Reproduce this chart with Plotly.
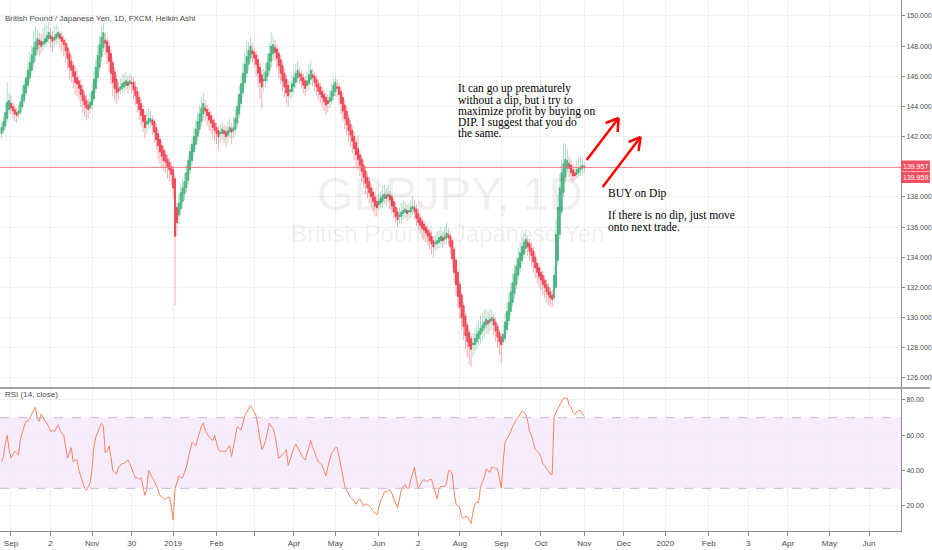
import pandas as pd
import plotly.graph_objects as go

# ---------------- data (Heikin Ashi daily) ----------------
start_date = "2018-08-27"

opens = [
    142.2,142.4,142.7,143.2,143.8,144.2,144.0,143.8,143.6,143.5,
    143.6,144.0,144.4,144.9,145.4,145.9,146.4,146.9,147.4,147.8,
    148.4,148.3,148.1,148.2,148.3,148.5,148.7,148.6,148.4,148.5,
    148.6,148.8,148.6,148.4,148.2,147.9,147.5,147.0,146.7,146.3,
    145.9,145.7,145.4,145.1,144.7,144.4,144.1,143.9,144.1,144.5,
    145.2,145.9,146.6,147.3,147.9,148.4,148.3,148.0,147.5,146.9,
    146.3,145.8,145.2,145.1,145.2,145.3,145.4,145.6,145.5,145.6,
    145.6,145.3,145.0,144.6,144.2,143.8,143.4,142.8,142.9,143.0,
    143.1,143.0,142.6,142.2,141.8,141.4,141.1,140.8,140.5,140.3,
    140.0,139.8,139.2,137.3,136.8,137.2,137.7,138.2,138.6,139.1,
    139.8,140.4,141.0,141.5,142.0,142.5,143.0,143.5,143.9,143.8,
    143.6,143.4,143.1,142.9,142.6,142.4,142.2,142.2,142.4,142.3,
    142.1,142.3,142.5,142.4,142.5,142.9,143.5,144.2,144.9,145.6,
    146.2,146.8,147.2,147.7,147.6,147.4,147.1,146.6,146.1,145.7,
    145.7,146.0,146.4,147.0,147.5,147.9,147.8,147.5,147.1,146.7,
    146.2,145.8,145.4,145.0,145.0,145.3,145.6,145.9,146.2,146.1,
    145.9,145.7,145.4,145.5,145.8,146.1,146.0,145.8,145.5,145.3,
    145.0,144.8,144.6,144.4,144.3,144.4,144.7,145.0,145.3,145.3,
    145.0,144.6,144.1,143.7,143.2,142.8,142.4,142.0,141.6,141.2,
    140.8,140.5,140.1,139.7,139.3,139.0,138.6,138.3,138.0,137.7,
    137.5,137.6,137.7,137.9,138.1,138.0,138.1,138.0,137.7,137.3,
    137.0,136.7,136.7,136.9,137.0,137.1,137.0,137.0,137.2,137.3,
    137.2,136.9,136.6,136.4,136.2,136.0,135.8,135.6,135.4,135.1,
    134.9,134.9,135.0,135.1,135.3,135.2,135.3,135.5,135.4,135.1,
    134.5,133.8,133.0,132.2,131.5,130.8,130.1,129.5,129.0,128.6,
    128.2,128.2,128.4,128.6,128.9,129.1,129.3,129.5,129.8,129.7,
    129.8,129.9,129.7,129.4,129.0,128.7,128.4,128.6,129.2,129.8,
    130.4,131.0,131.6,132.2,132.8,133.3,133.8,134.2,134.6,135.0,
    134.9,134.6,134.4,134.0,133.6,133.3,133.0,132.8,132.5,132.2,
    132.0,131.7,131.5,131.3,132.0,133.8,135.5,137.0,138.3,139.3,
    139.9,140.2,140.1,139.8,139.6,139.5,139.6,139.8,139.9,140.02,
]
highs = [
    142.9,143.4,144.2,145.6,144.9,144.7,144.3,144.1,143.9,144.1,
    144.6,145.4,145.8,146.3,147.0,147.6,148.0,149.0,149.3,149.1,
    148.9,148.8,149.2,149.5,149.4,149.6,149.2,149.0,149.3,149.5,
    149.3,149.0,148.9,148.7,148.5,148.2,147.8,147.4,147.0,146.7,
    146.5,146.0,145.8,145.4,145.0,144.8,144.5,144.9,145.5,146.3,
    147.1,148.0,148.7,149.3,149.5,148.9,148.6,148.4,147.8,147.2,
    146.6,146.1,145.6,145.9,146.1,146.2,146.3,146.0,146.2,146.0,
    145.9,145.7,145.3,144.9,144.5,144.1,143.7,143.6,143.9,143.7,
    143.4,143.2,142.9,142.5,142.1,141.7,141.4,141.1,140.8,140.6,
    140.3,140.0,139.4,137.6,138.2,138.9,139.2,139.6,140.1,140.8,
    141.5,142.0,142.6,143.1,143.6,144.1,144.6,144.9,144.4,144.1,
    143.9,143.7,143.4,143.2,142.9,142.7,142.8,143.0,142.8,142.7,
    143.0,143.2,142.9,143.3,143.8,144.6,145.4,146.1,146.9,147.6,
    148.4,148.3,148.6,148.2,147.9,147.7,147.4,146.9,146.4,146.5,
    146.9,147.5,148.2,148.9,148.7,148.4,148.1,147.8,147.4,147.0,
    146.5,146.1,145.7,145.7,146.1,146.4,146.8,147.0,146.6,146.4,
    146.2,146.0,146.3,146.8,147.1,146.5,146.3,146.1,145.8,145.6,
    145.3,145.1,144.9,144.8,145.1,145.5,145.9,146.0,145.8,145.6,
    145.3,144.9,144.4,144.0,143.5,143.1,142.7,142.3,141.9,142.1,
    141.1,140.8,140.4,140.0,139.6,139.3,138.9,138.6,138.3,138.0,
    138.2,138.4,138.7,138.8,138.6,138.8,138.4,138.2,137.9,137.6,
    137.3,137.3,137.6,137.8,137.7,137.5,137.6,137.8,138.1,137.7,
    137.5,137.2,136.9,136.7,136.5,136.3,136.1,135.9,135.7,135.4,
    135.5,135.7,135.8,136.0,135.7,136.0,136.3,135.9,135.6,135.3,
    134.7,134.0,133.2,132.4,131.7,131.0,130.3,129.7,129.2,128.8,
    129.0,129.3,129.6,129.8,130.2,130.3,130.5,130.6,130.4,130.6,
    130.5,130.2,130.0,129.6,129.2,128.9,129.5,130.3,131.0,131.6,
    132.3,132.9,133.5,134.0,134.6,135.0,135.3,135.6,135.8,135.4,
    135.2,135.0,134.7,134.3,133.9,133.6,133.3,133.1,132.8,132.5,
    132.3,132.0,131.8,133.5,136.5,138.2,139.5,140.5,141.6,141.5,
    141.2,140.7,140.5,140.2,140.0,140.4,140.6,140.7,140.6,140.3,
]
lows = [
    141.9,142.2,142.5,143.0,143.5,143.5,143.2,143.0,142.9,143.2,
    143.4,143.8,144.2,144.7,145.2,145.6,146.1,146.6,147.0,147.4,
    147.4,147.5,147.7,147.9,148.0,148.2,147.9,147.6,148.0,148.1,
    148.2,147.8,147.6,147.3,146.9,146.5,145.8,145.6,145.2,144.8,
    144.7,144.4,144.0,143.6,143.3,143.1,143.2,143.5,143.8,144.3,
    144.9,145.6,146.3,147.0,147.6,147.4,146.8,146.3,145.5,144.7,
    144.4,144.2,144.5,144.8,144.9,145.0,145.1,144.9,145.1,144.9,
    144.5,144.1,143.6,143.1,142.7,142.3,141.9,142.2,142.5,142.6,
    142.1,141.6,141.1,140.5,140.2,139.9,139.7,139.6,139.2,139.0,
    138.8,137.9,130.8,135.4,136.2,136.8,137.3,137.8,138.3,138.8,
    139.5,140.1,140.7,141.2,141.7,142.2,142.7,143.1,143.0,142.7,
    142.4,142.2,141.9,141.7,141.5,141.1,141.6,141.8,141.6,141.3,
    141.6,141.9,141.5,141.9,142.1,142.6,143.2,143.9,144.6,145.3,
    145.9,146.4,146.9,146.9,146.6,146.0,145.3,144.5,143.8,145.0,
    145.3,145.6,146.1,146.6,147.1,147.0,146.5,145.9,145.5,145.0,
    144.6,144.2,144.0,144.5,144.6,144.9,145.2,145.5,145.5,145.2,
    144.9,144.7,145.0,145.1,145.4,145.3,145.0,144.7,144.4,144.2,
    144.0,143.7,143.5,143.6,143.9,144.1,144.4,144.7,144.6,144.1,
    143.5,143.0,142.5,142.1,141.6,141.3,140.9,140.4,140.0,139.8,
    139.4,139.0,138.6,138.2,137.9,137.6,137.3,137.0,136.7,136.7,
    137.1,137.2,137.3,137.5,137.4,137.6,137.2,136.9,136.6,136.3,
    136.0,136.2,136.3,136.5,136.6,136.4,136.5,136.6,136.8,136.5,
    136.1,135.8,135.6,135.3,135.2,135.0,134.8,134.5,134.2,134.0,
    134.4,134.5,134.6,134.7,134.6,134.8,134.9,134.8,134.2,133.3,
    132.3,131.5,130.6,129.9,129.2,128.5,127.9,127.4,126.9,126.7,
    127.4,127.6,127.9,128.1,128.3,128.5,128.7,128.9,128.9,129.1,
    129.2,128.8,128.4,128.0,127.5,127.0,128.1,128.4,128.9,129.5,
    130.1,130.7,131.3,131.9,132.5,133.0,133.5,133.9,134.3,134.1,
    133.8,133.4,133.0,132.6,132.3,132.0,131.8,131.5,131.3,131.0,
    130.8,130.7,130.7,131.1,131.8,133.5,135.2,136.8,138.0,139.0,
    139.6,139.3,139.1,139.0,139.1,139.2,139.3,139.4,139.5,139.6,
]
closes = [
    142.6,143.0,143.6,144.3,144.4,143.9,143.7,143.5,143.4,143.7,
    144.3,144.8,145.4,145.9,146.4,146.9,147.4,147.9,148.3,148.5,
    148.1,148.0,148.3,148.5,148.7,148.9,148.5,148.3,148.6,148.8,
    148.9,148.5,148.3,148.1,147.7,147.2,146.6,146.4,146.0,145.6,
    145.5,145.2,144.8,144.4,144.1,143.9,143.8,144.3,145.0,145.8,
    146.6,147.4,148.1,148.6,148.9,148.2,147.6,147.0,146.2,145.6,
    145.2,144.9,145.0,145.3,145.5,145.6,145.7,145.4,145.7,145.5,
    145.1,144.7,144.2,143.8,143.4,143.0,142.6,143.0,143.2,143.2,
    142.8,142.3,141.8,141.4,141.0,140.7,140.4,140.3,140.0,139.8,
    139.5,138.6,135.4,136.3,137.6,138.3,138.6,139.0,139.6,140.4,
    141.0,141.5,142.0,142.5,143.0,143.5,143.9,144.2,143.7,143.4,
    143.1,142.9,142.6,142.4,142.2,142.0,142.3,142.5,142.2,142.0,
    142.4,142.6,142.3,142.6,143.2,144.0,144.8,145.5,146.2,146.8,
    147.3,147.7,148.0,147.5,147.2,146.8,146.2,145.6,145.3,145.8,
    146.3,146.9,147.5,148.0,148.1,147.6,147.2,146.7,146.2,145.7,
    145.3,144.9,144.7,145.1,145.5,145.9,146.2,146.4,146.0,145.7,
    145.4,145.2,145.7,146.1,146.4,145.9,145.6,145.3,145.0,144.8,
    144.6,144.3,144.1,144.2,144.6,145.0,145.4,145.6,145.2,144.8,
    144.2,143.7,143.2,142.8,142.4,142.1,141.7,141.2,140.8,140.5,
    140.1,139.7,139.3,138.9,138.6,138.3,138.0,137.7,137.4,137.3,
    137.7,137.9,138.1,138.2,137.9,138.2,137.8,137.4,137.0,136.7,
    136.5,136.8,137.0,137.1,137.2,136.9,137.1,137.3,137.4,137.0,
    136.6,136.3,136.1,135.9,135.8,135.6,135.4,135.1,134.9,134.7,
    135.0,135.1,135.3,135.4,135.1,135.4,135.6,135.3,134.7,133.9,
    133.0,132.2,131.4,130.7,130.0,129.4,128.8,128.4,128.1,127.9,
    128.3,128.6,128.9,129.1,129.3,129.5,129.7,129.9,129.6,129.9,
    130.0,129.5,129.1,128.7,128.4,128.2,128.9,129.7,130.4,131.0,
    131.7,132.3,132.9,133.4,133.9,134.3,134.7,135.0,135.2,134.7,
    134.4,134.1,133.7,133.3,133.0,132.7,132.5,132.2,132.0,131.7,
    131.5,131.3,131.2,132.8,135.5,137.3,138.6,139.6,140.2,140.5,
    140.4,139.9,139.6,139.4,139.4,139.8,139.9,140.0,140.1,139.957,
]
rsi_values = [
    45,48,55,60,52,47,49,51,50,49,
    58,62,65,68,68,70,72,74,76,69,
    68,72,70,68,67,65,62,63,62,64,
    66,63,61,60,52,47,50,53,45,46,
    46,40,37,34,30,29,31,33,41,54,
    59,62,65,67,65,50,51,54,48,40,
    39,38,42,43,44,44,45,46,44,41,
    38,36,36,35,36,30,26,29,40,38,
    36,34,32,29,26,25,24,24,25,25,
    20,12,30,33,37,36,36,39,42,47,
    52,56,55,54,58,62,65,67,63,61,
    59,58,57,60,56,52,51,51,51,51,
    53,54,48,54,60,65,64,63,67,71,
    73,75,77,75,73,71,65,58,52,54,
    57,62,67,65,64,60,52,47,48,49,
    50,52,43,46,50,53,55,53,51,49,
    47,46,50,54,57,53,51,47,45,44,
    43,40,37,42,47,50,51,53,53,48,
    43,37,31,29,27,25,24,23,21,23,
    24,22,20,21,21,20,19,17,16,15,
    19,23,25,28,28,29,29,27,24,21,
    19,24,29,31,32,30,30,35,38,42,
    35,30,32,34,35,34,34,35,35,31,
    27,24,30,31,31,31,33,40,40,38,
    28,21,20,19,14,13,14,14,12,10,
    17,21,22,22,31,34,36,41,40,39,
    42,42,41,41,36,30,45,56,58,60,
    62,65,67,69,70,72,74,73,72,68,
    62,60,56,52,51,50,48,44,43,41,
    40,38,38,70,73,75,77,79,81,81,
    81,77,76,73,72,73,74,74,72,71,
]

tick_dates = ["2018-09-03", "2018-10-02", "2018-11-01", "2018-11-30", "2019-01-01",
              "2019-02-01", "2019-03-01", "2019-04-01", "2019-05-01", "2019-06-03",
              "2019-07-02", "2019-08-01", "2019-09-02", "2019-10-01", "2019-11-01",
              "2019-12-02", "2020-01-01", "2020-02-03", "2020-03-03", "2020-04-01",
              "2020-05-01", "2020-06-01"]
tick_labels = ["Sep", "2", "Nov", "30", "2019", "Feb", "", "Apr", "May", "Jun",
               "2", "Aug", "Sep", "Oct", "Nov", "Dec", "2020", "Feb", "3", "Apr",
               "May", "Jun"]
price_ticks = [126, 128, 130, 132, 134, 136, 138, 142, 144, 146, 148, 150]
rsi_ticks = [20, 40, 60, 80]
last_price = 139.957
last_label_2 = "139.959"
x_range = ["2018-08-24 04:20", "2020-06-23 23:00"]

dates = pd.bdate_range(start_date, periods=len(closes))
rsi_dates = pd.bdate_range(start_date, periods=len(rsi_values))
body_top = [max(o, c) for o, c in zip(opens, closes)]
body_bot = [min(o, c) for o, c in zip(opens, closes)]

# ---------------- layout helpers ----------------
W, H = 932, 550
MR, MB = 29, 19
PW, PH = W - MR, H - MB


def px(x):
    return x / PW


def py(y):
    return (PH - y) / PH


FONT = "Liberation Sans, Arial, sans-serif"
SERIF = "Liberation Serif, Times New Roman, serif"
GREEN, RED = "#4fb585", "#ee4c5b"
GRID = "#eef0f2"

fig = go.Figure()
# current-price line
fig.add_trace(go.Scatter(
    x=x_range, y=[last_price, last_price], mode="lines",
    line=dict(color="#f26672", width=1), xaxis="x", yaxis="y",
    showlegend=False, hoverinfo="skip", opacity=0.85))
# wicks (light)
fig.add_trace(go.Candlestick(
    x=dates, open=opens, high=highs, low=lows, close=closes,
    increasing=dict(line=dict(color="rgba(79,181,133,0.45)", width=1),
                    fillcolor="rgba(79,181,133,0.45)"),
    decreasing=dict(line=dict(color="rgba(238,76,91,0.45)", width=1),
                    fillcolor="rgba(238,76,91,0.45)"),
    whiskerwidth=0, xaxis="x", yaxis="y", showlegend=False, hoverinfo="skip"))
# bodies (solid)
fig.add_trace(go.Candlestick(
    x=dates, open=opens, high=body_top, low=body_bot, close=closes,
    increasing=dict(line=dict(color=GREEN, width=1), fillcolor=GREEN),
    decreasing=dict(line=dict(color=RED, width=1), fillcolor=RED),
    whiskerwidth=0, xaxis="x", yaxis="y", showlegend=False, hoverinfo="skip"))
fig.add_trace(go.Scatter(
    x=rsi_dates, y=rsi_values, mode="lines", line=dict(color="#f7845f", width=1),
    xaxis="x", yaxis="y2", showlegend=False, hoverinfo="skip"))

shapes = [
    dict(type="rect", xref="paper", yref="y2", x0=0, x1=1, y0=30, y1=70,
         fillcolor="rgba(156,39,228,0.09)", line=dict(width=0), layer="below"),
    dict(type="line", xref="paper", yref="y2", x0=0, x1=1, y0=70, y1=70,
         line=dict(color="#c8b4d4", width=1, dash="dash")),
    dict(type="line", xref="paper", yref="y2", x0=0, x1=1, y0=30, y1=30,
         line=dict(color="#c8b4d4", width=1, dash="dash")),
    dict(type="line", xref="paper", yref="paper", x0=0, x1=W / PW, y0=py(388), y1=py(388),
         line=dict(color="#a3a3a3", width=2)),
    # price label boxes on the right scale
    dict(type="rect", xref="paper", yref="paper", x0=1, x1=W / PW, y0=py(171.5), y1=py(160.5),
         fillcolor="#f0505d", line=dict(width=0), layer="above"),
    dict(type="rect", xref="paper", yref="paper", x0=1, x1=W / PW, y0=py(183), y1=py(172),
         fillcolor="#f0505d", line=dict(width=0), layer="above"),
]


def arrow(x0, y0, x1, y1, a1, a2):
    out = []
    for (ax, ay, bx, by) in [(x0, y0, x1, y1), (a1[0], a1[1], x1, y1), (a2[0], a2[1], x1, y1)]:
        out.append(dict(type="line", xref="paper", yref="paper",
                        x0=px(ax), y0=py(ay), x1=px(bx), y1=py(by),
                        line=dict(color="#ff0000", width=2.5)))
    return out


shapes += arrow(588, 160, 620, 118, (607, 123), (619, 132))
shapes += arrow(604, 187, 642, 137, (630, 142), (640, 151))

annotations = [
    dict(text="GBPJPY, 1D", x=px(451), y=py(165), xref="paper", yref="paper",
         showarrow=False, font=dict(family=FONT, size=47, color="rgba(0,0,0,0.075)")),
    dict(text="British Pound / Japanese Yen", x=px(449), y=py(233), xref="paper", yref="paper",
         showarrow=False, font=dict(family=FONT, size=24, color="rgba(0,0,0,0.075)")),
    dict(text="British Pound / Japanese Yen, 1D, FXCM, Heikin Ashi", x=px(3), y=py(12),
         xref="paper", yref="paper", xanchor="left", showarrow=False,
         font=dict(family=FONT, size=8, color="#4a4a4a")),
    dict(text="RSI (14, close)", x=px(3), y=py(401), xref="paper", yref="paper",
         xanchor="left", showarrow=False, font=dict(family=FONT, size=8, color="#4a4a4a")),
    dict(text=f"{last_price:.3f}", x=px(917.5), xref="paper", y=py(166), yref="paper",
         xanchor="center", yanchor="middle", showarrow=False, borderpad=0,
         font=dict(family=FONT, size=7, color="white")),
    dict(text=last_label_2, x=px(917.5), xref="paper", y=py(177.5), yref="paper",
         xanchor="center", yanchor="middle", showarrow=False, borderpad=0,
         font=dict(family=FONT, size=7, color="white")),
]
note_lines = [("It can go up prematurely", 80), ("without a dip, but i try to", 91.5),
              ("maximize profit by buying on", 103), ("DIP. I suggest that you do", 114),
              ("the same.", 125)]
for t, yy in note_lines:
    annotations.append(dict(text=t, x=px(457), y=py(yy), xref="paper", yref="paper",
                            xanchor="left", showarrow=False,
                            font=dict(family=SERIF, size=11.5, color="#000")))
for t, yy in [("BUY on Dip", 193), ("If there is no dip, just move", 215.5),
              ("onto next trade.", 226.5)]:
    annotations.append(dict(text=t, x=px(607), y=py(yy), xref="paper", yref="paper",
                            xanchor="left", showarrow=False,
                            font=dict(family=SERIF, size=11.5, color="#000")))

fig.update_layout(
    width=W, height=H, margin=dict(l=0, r=MR, t=0, b=MB),
    paper_bgcolor="white", plot_bgcolor="white",
    font=dict(family=FONT, size=8, color="#4a4a4a"),
    showlegend=False, shapes=shapes, annotations=annotations,
    hovermode=False, dragmode=False,
    xaxis=dict(type="date", range=x_range,
               rangebreaks=[dict(bounds=["sat", "mon"])],
               tickmode="array", tickvals=tick_dates, ticktext=tick_labels,
               showgrid=True, gridcolor=GRID, gridwidth=1, anchor="y2",
               ticks="outside", ticklen=4, tickcolor="#8a8a8a",
               showline=True, linecolor="#8a8a8a", linewidth=1,
               tickfont=dict(size=8, color="#4a4a4a"), rangeslider=dict(visible=False),
               zeroline=False, fixedrange=True, showspikes=False),
    yaxis=dict(domain=[py(388), 1], range=[125.33, 151.06], side="right", anchor="x",
               tickmode="array", tickvals=price_ticks, tickformat=".3f",
               showgrid=True, gridcolor=GRID, ticks="outside", ticklen=3,
               tickcolor="#8a8a8a", showline=True, linecolor="#8a8a8a",
               tickfont=dict(size=7, color="#4a4a4a"), zeroline=False, showspikes=False),
    yaxis2=dict(domain=[0, py(389)], range=[5.85, 86.2], side="right", anchor="x",
                tickmode="array", tickvals=rsi_ticks, tickformat=".2f",
                showgrid=True, gridcolor=GRID, ticks="outside", ticklen=3,
                tickcolor="#8a8a8a", showline=True, linecolor="#8a8a8a",
                tickfont=dict(size=7, color="#4a4a4a"), zeroline=False),
)

fig.write_html("out.html", config={"displayModeBar": False, "staticPlot": True},
               post_script="document.body.style.margin='0';")
